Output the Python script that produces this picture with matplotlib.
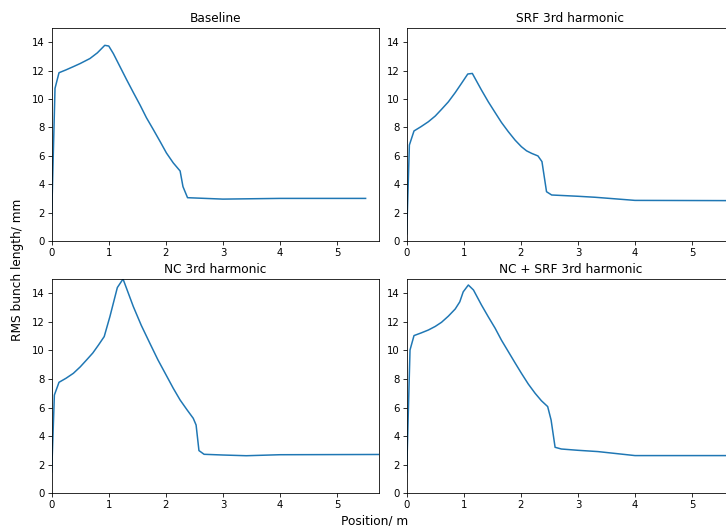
import matplotlib
matplotlib.use("Agg")
import matplotlib.pyplot as plt

# values
titles = ["Baseline", "SRF 3rd harmonic", "NC 3rd harmonic", "NC + SRF 3rd harmonic"]

base_x = [0.0, 0.058, 0.128, 0.25, 0.38, 0.5, 0.67, 0.8, 0.93, 1.0, 1.08, 1.2, 1.31, 1.43,
          1.55, 1.66, 1.78, 1.9, 2.01, 2.13, 2.25, 2.30, 2.38, 3.0, 4.0, 5.5]
base_y = [1.8, 10.75, 11.85, 12.05, 12.28, 12.5, 12.85, 13.25, 13.78, 13.73, 13.2, 12.25, 11.38,
          10.46, 9.56, 8.68, 7.85, 7.0, 6.2, 5.5, 4.93, 3.83, 3.05, 2.95, 3.0, 3.0]

srf_x = [0.0, 0.047, 0.128, 0.25, 0.38, 0.5, 0.61, 0.73, 0.85, 0.96, 1.07, 1.15, 1.31, 1.43,
         1.55, 1.66, 1.78, 1.9, 2.01, 2.1, 2.19, 2.30, 2.37, 2.45, 2.54, 3.0, 3.3, 4.0, 6.0]
srf_y = [0.5, 6.76, 7.75, 8.05, 8.4, 8.8, 9.27, 9.8, 10.45, 11.1, 11.76, 11.8, 10.63, 9.8,
         9.04, 8.35, 7.7, 7.1, 6.64, 6.35, 6.17, 5.99, 5.59, 3.47, 3.24, 3.15, 3.08, 2.86, 2.84]

nc_x = [0.0, 0.047, 0.128, 0.25, 0.38, 0.5, 0.61, 0.72, 0.82, 0.92, 1.02, 1.15, 1.25, 1.43,
        1.57, 1.72, 1.86, 2.01, 2.13, 2.25, 2.37, 2.48, 2.53, 2.58, 2.67, 3.0, 3.41, 4.0, 6.0]
nc_y = [1.5, 6.88, 7.77, 8.05, 8.4, 8.85, 9.33, 9.82, 10.38, 10.97, 12.37, 14.4, 15.0, 13.07,
        11.75, 10.5, 9.35, 8.24, 7.35, 6.53, 5.85, 5.25, 4.78, 2.99, 2.73, 2.68, 2.63, 2.7, 2.72]

both_x = [0.0, 0.058, 0.128, 0.25, 0.38, 0.5, 0.61, 0.73, 0.85, 0.93, 0.99, 1.08, 1.17, 1.31,
          1.43, 1.55, 1.66, 1.78, 1.9, 2.01, 2.13, 2.25, 2.36, 2.47, 2.53, 2.6, 2.71, 3.0,
          3.35, 4.0, 6.0]
both_y = [1.5, 10.03, 11.04, 11.22, 11.43, 11.68, 11.97, 12.4, 12.9, 13.4, 14.1, 14.58, 14.23,
          13.18, 12.35, 11.55, 10.72, 9.92, 9.12, 8.4, 7.65, 7.0, 6.48, 6.07, 5.13, 3.22, 3.1,
          3.01, 2.92, 2.64, 2.64]

xs = [base_x, srf_x, nc_x, both_x]
ys = [base_y, srf_y, nc_y, both_y]

# the reference is a downscaled render, so shrink everything by the same factor
s = 0.726
plt.rcParams.update({
    "font.size": 10 * s,
    "axes.titlesize": 12 * s,
    "axes.titlepad": 6 * s,
    "lines.linewidth": 1.5 * s,
    "axes.linewidth": 0.8 * s,
    "xtick.major.size": 3.5 * s,
    "ytick.major.size": 3.5 * s,
    "xtick.major.width": 0.8 * s,
    "ytick.major.width": 0.8 * s,
    "xtick.major.pad": 3.5 * s,
    "ytick.major.pad": 3.5 * s,
})

W, H = 726, 526
fig = plt.figure(figsize=(W / 100, H / 100), dpi=100)

# axes boxes in pixels: left, top, right, bottom  (right column runs past the edge)
boxes = [(51.7, 28, 379.3, 241), (406.7, 28, 734.3, 241),
         (51.7, 279, 379.3, 493.3), (406.7, 279, 734.3, 493.3)]

for box, t, x, y in zip(boxes, titles, xs, ys):
    l, tp, r, b = box
    ax = fig.add_axes([l / W, (H - b) / H, (r - l) / W, (b - tp) / H])
    ax.plot(x, y)
    ax.set_xlim(0, 5.74)
    ax.set_ylim(0, 15)
    ax.set_yticks(range(0, 15, 2))
    ax.set_xticks(range(0, 6))
    ax.set_title(t)

fig.text(374.5 / W, 1 - 520.7 / H, "Position/ m", ha="center", va="center", fontsize=12 * s)
fig.text(17.5 / W, 1 - 270 / H, "RMS bunch length/ mm", ha="center", va="center",
         rotation=90, fontsize=12 * s)

fig.savefig("out.png", dpi=100)
